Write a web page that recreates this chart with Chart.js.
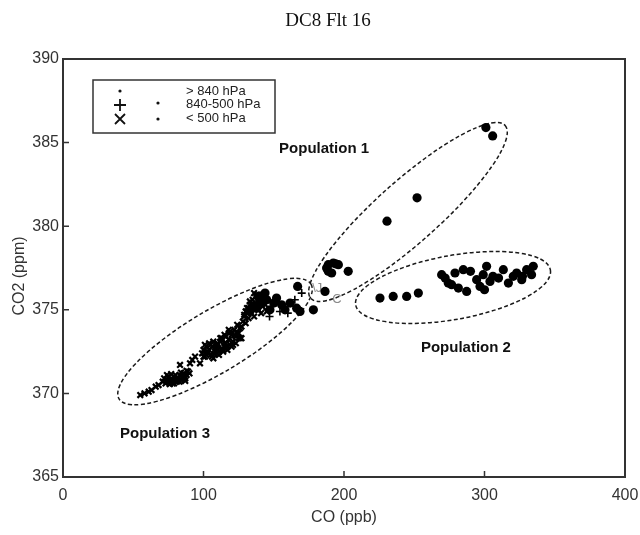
<!DOCTYPE html>
<html><head><meta charset="utf-8">
<script src="https://cdn.jsdelivr.net/npm/chart.js@4/dist/chart.umd.min.js"></script>
<style>html,body{margin:0;padding:0;background:#fff}canvas{display:block}</style>
</head><body>
<canvas id="c" width="640" height="535"></canvas>
<script>
// ---- data (CO ppb, CO2 ppm) ----
const titleText = "DC8 Flt 16";
const xTitle = "CO (ppb)";
const yTitle = "CO2 (ppm)";
const xTicks = [0, 100, 200, 300, 400];
const yTicks = [365, 370, 375, 380, 385, 390];

// large filled circles
const circleCO  = [301,305.8,252,230.6, 188.8,192.4,196,188.8,191.2,187.6,203,194,
  167,186.5,178.2, 143.8,147.3,155.6,161.6,166.3,168.7,139,141,145,150,136,152,158,133,138,
  225.6,235,244.6,252.9,269.5,274.2,279,276.6,281.4,284.9,287.3,294.4,296.8,299.1,301.5,303.9,
  313.4,317,320.5,322.9,326.5,330,333.5,334.7,290,306,310,327,300,272];
const circleCO2 = [385.9,385.4,381.7,380.3, 377.7,377.8,377.7,377.3,377.2,377.5,377.3,377.75,
  376.4,376.1,375.0, 376.0,375.0,375.3,375.4,375.1,374.9,375.8,375.5,375.6,375.4,375.2,375.7,375.0,374.9,375.1,
  375.7,375.8,375.8,376.0,377.1,376.6,377.2,376.5,376.3,377.4,376.1,376.8,376.4,377.1,377.6,376.7,
  377.4,376.6,377.0,377.2,376.8,377.4,377.1,377.6,377.3,377.0,376.9,377.0,376.2,376.9];

// crosses (< 500 hPa)
const crossCO  = [55,58,61,63,66,68,
  71,72,73,74,75,76,77,78,79,80,81,82,83,84,85,86,87,88,89,90,78,82,86,74,77,80,84,88,76,79,83,87,
  83.3,90.4,92,94,97.5,
  99,100,101,102,103,104,105,106,107,108,109,110,111,112,113,114,115,116,117,118,119,120,121,122,123,124,125,126,127,105,110,118,
  101,104,107,110,113,116,119,122,125,103,109,115,121,124,
  100,102,106,108,111,114,117,120,123,126,112,115,118,
  128,129,130,131,132,133,134,135,136,137,138,139,140,141,142,143,144,145,130,134,138,142,127,132,136,
  129,131,133,135,137,139,141,143];
const crossCO2 = [369.9,370.0,370.1,370.2,370.4,370.5,
  370.7,370.9,370.6,370.8,371.0,370.7,370.9,370.6,371.0,370.8,370.7,370.9,371.1,370.8,371.0,371.2,370.9,371.1,371.3,371.2,370.8,370.75,371.05,371.1,371.15,371.1,371.25,371.35,370.55,370.6,370.7,370.75,
  371.7,371.8,372.0,372.2,371.8,
  372.4,372.6,372.2,372.8,372.4,372.6,372.3,372.8,372.1,372.5,372.9,372.6,372.3,373.1,372.7,372.5,373.0,373.4,372.8,373.2,372.9,373.5,373.1,373.8,373.4,374.1,373.6,373.9,373.3,372.9,373.0,373.6,
  372.9,373.0,373.1,372.9,373.3,373.0,373.7,373.5,373.3,372.5,372.7,372.8,372.9,373.6,
  372.2,372.3,372.2,372.35,372.5,372.6,372.6,372.8,373.0,373.3,373.3,373.5,373.8,
  374.3,374.6,374.2,374.9,374.5,375.3,374.8,375.6,374.6,375.4,375.9,375.0,375.5,374.8,375.2,375.7,375.3,374.9,374.9,375.0,375.3,375.9,374.0,375.1,376.0,
  374.7,375.1,375.5,375.2,375.8,375.7,375.9,375.5];

// pluses (840-500 hPa)
const plusCO  = [169.9,154.4,160,147,165];
const plusCO2 = [376.0,374.9,374.8,374.6,375.6];

// population ellipses: major-axis end points in data units
const ellipseNames = ["Population 1","Population 2","Population 3"];
const ellipseCO  = [[176.4,314.7],[208.3,346.9],[39.9,176.5]];
const ellipseCO2 = [[375.68,386.02],[375.29,377.38],[369.67,376.53]];
const labelCO  = [185.8,286.8,72.6];
const labelCO2 = [384.62,372.7,367.6];

const legendLabels = ["> 840 hPa","840-500 hPa","< 500 hPa"];

// ---- build ----
const zip = (a,b)=>a.map((v,i)=>({x:v,y:b[i]}));
const FONT = "'Liberation Sans', Arial, sans-serif";

const overlay = {
  id:'overlay',
  beforeDatasetsDraw(chart){
    const {ctx, scales:{x,y}} = chart;
    const minor = [31,32,31];
    ctx.save();
    ctx.strokeStyle = '#1a1a1a'; ctx.lineWidth = 1.5; ctx.setLineDash([4,2.5]);
    ellipseCO.forEach((e,i)=>{
      const x1=x.getPixelForValue(e[0]), x2=x.getPixelForValue(e[1]);
      const y1=y.getPixelForValue(ellipseCO2[i][0]), y2=y.getPixelForValue(ellipseCO2[i][1]);
      const cx=(x1+x2)/2, cy=(y1+y2)/2, a=Math.hypot(x2-x1,y2-y1)/2, ang=Math.atan2(y2-y1,x2-x1);
      ctx.beginPath(); ctx.ellipse(cx,cy,a,minor[i],ang,0,Math.PI*2); ctx.stroke();
    });
    ctx.setLineDash([]);
    ctx.fillStyle='#111'; ctx.font = "bold 15px "+FONT; ctx.textAlign='center'; ctx.textBaseline='middle';
    ellipseNames.forEach((n,i)=>ctx.fillText(n, x.getPixelForValue(labelCO[i]), y.getPixelForValue(labelCO2[i])));
    ctx.fillStyle='#8a8a8a'; ctx.font = "13px "+FONT;
    ctx.fillText("\\J", x.getPixelForValue(181), y.getPixelForValue(376.3));
    ctx.fillText("C", x.getPixelForValue(195), y.getPixelForValue(375.6));
    ctx.restore();
  },
  afterDraw(chart){
    const {ctx, chartArea:ca, scales:{x,y}} = chart;
    ctx.save();
    ctx.strokeStyle='#333'; ctx.lineWidth=2;
    ctx.strokeRect(ca.left, ca.top, ca.right-ca.left, ca.bottom-ca.top);
    ctx.lineWidth=1.5; ctx.beginPath();
    x.ticks.forEach(t=>{ if(t.value>0 && t.value<400){const px=x.getPixelForValue(t.value); ctx.moveTo(px,ca.bottom); ctx.lineTo(px,ca.bottom-6);} });
    y.ticks.forEach(t=>{ if(t.value>365 && t.value<390){const py=y.getPixelForValue(t.value); ctx.moveTo(ca.left,py); ctx.lineTo(ca.left+6,py);} });
    ctx.stroke();
    ctx.fillStyle='#111'; ctx.textAlign='center'; ctx.textBaseline='middle';
    ctx.font = "19px 'Liberation Serif', 'Times New Roman', serif";
    ctx.fillText(titleText, 328, 21);
    ctx.fillStyle='#333'; ctx.font = "16px "+FONT;
    ctx.fillText(xTitle, (ca.left+ca.right)/2, 518);
    ctx.save(); ctx.translate(20,(ca.top+ca.bottom)/2+8); ctx.rotate(-Math.PI/2); ctx.fillText(yTitle,0,0); ctx.restore();
    const L=ca.left, T=ca.top;
    ctx.strokeStyle='#333'; ctx.lineWidth=1.5;
    ctx.strokeRect(L+30, T+21, 182, 53);
    ctx.fillStyle='#111';
    const dot=(px,py,r)=>{ctx.beginPath();ctx.arc(px,py,r,0,Math.PI*2);ctx.fill();};
    dot(L+57,T+32,1.6); dot(L+95,T+44,1.6); dot(L+95,T+60,1.6);
    ctx.strokeStyle='#111'; ctx.lineWidth=1.8; ctx.beginPath();
    ctx.moveTo(L+51,T+46); ctx.lineTo(L+63,T+46); ctx.moveTo(L+57,T+40); ctx.lineTo(L+57,T+52);
    ctx.moveTo(L+52,T+55); ctx.lineTo(L+62,T+65); ctx.moveTo(L+62,T+55); ctx.lineTo(L+52,T+65);
    ctx.stroke();
    ctx.textAlign='left'; ctx.font = "13px "+FONT; ctx.fillStyle='#222';
    ctx.fillText(legendLabels[0], L+123, T+32);
    ctx.fillText(legendLabels[1], L+123, T+45);
    ctx.fillText(legendLabels[2], L+123, T+59);
    ctx.restore();
  }
};

new Chart(document.getElementById('c'), {
  type:'scatter',
  data:{datasets:[
    {label:'< 500 hPa', data:zip(crossCO,crossCO2), pointStyle:'crossRot', radius:4, borderColor:'#000', borderWidth:2.2, backgroundColor:'#000'},
    {label:'840-500 hPa', data:zip(plusCO,plusCO2), pointStyle:'cross', radius:4, borderColor:'#000', borderWidth:1.6, backgroundColor:'#000'},
    {label:'> 840 hPa', data:zip(circleCO,circleCO2), pointStyle:'circle', radius:4.6, borderWidth:0, backgroundColor:'#000', borderColor:'#000'}
  ]},
  options:{
    responsive:false, animation:false, devicePixelRatio:1,
    layout:{padding:{left:0,right:15,top:59,bottom:0}},
    plugins:{legend:{display:false}, tooltip:{enabled:false}, title:{display:false}},
    scales:{
      x:{type:'linear', min:0, max:400, afterBuildTicks(s){s.ticks=xTicks.map(v=>({value:v}));},
         ticks:{color:'#333', font:{family:FONT,size:16}, padding:9, maxRotation:0},
         grid:{display:false, drawTicks:false}, border:{display:false},
         afterFit(s){s.height=58; s.paddingLeft=0; s.paddingRight=0;}},
      y:{type:'linear', min:365, max:390, afterBuildTicks(s){s.ticks=yTicks.map(v=>({value:v}));},
         ticks:{color:'#333', font:{family:FONT,size:16}, padding:4},
         grid:{display:false, drawTicks:false}, border:{display:false},
         afterFit(s){s.width=63; s.paddingTop=0; s.paddingBottom=0;}}
    }
  },
  plugins:[overlay]
});
</script>
</body></html>
